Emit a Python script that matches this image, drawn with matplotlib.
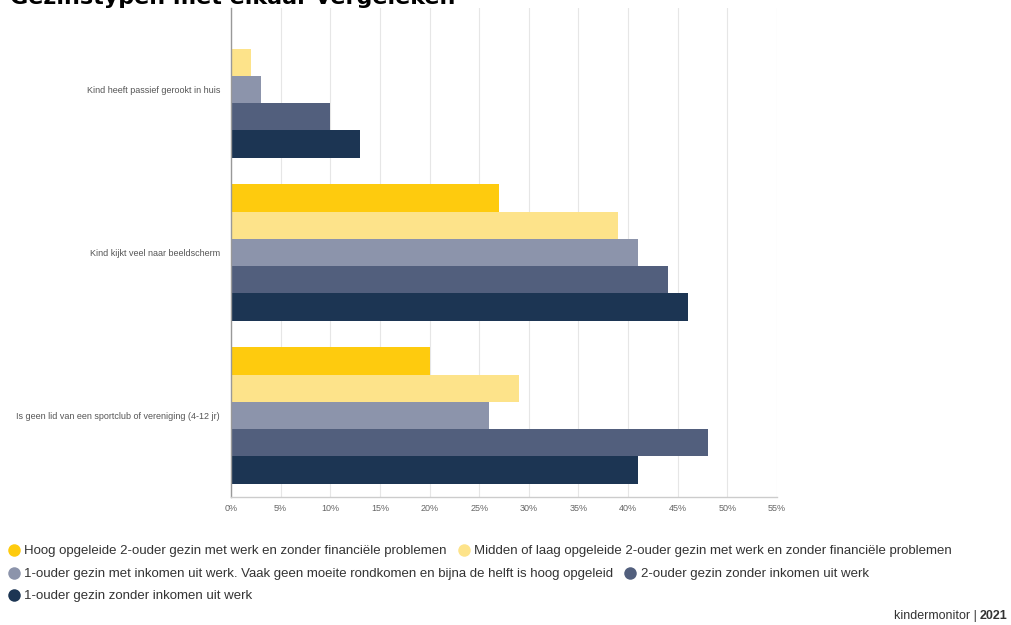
import matplotlib
matplotlib.use("Agg")
import matplotlib.pyplot as plt
from matplotlib.lines import Line2D
import numpy as np

categories = [
    "Kind heeft passief gerookt in huis",
    "Kind kijkt veel naar beeldscherm",
    "Is geen lid van een sportclub of vereniging (4-12 jr)",
]
series_names = [
    "Hoog opgeleide 2-ouder gezin met werk en zonder financiële problemen",
    "Midden of laag opgeleide 2-ouder gezin met werk en zonder financiële problemen",
    "1-ouder gezin met inkomen uit werk. Vaak geen moeite rondkomen en bijna de helft is hoog opgeleid",
    "2-ouder gezin zonder inkomen uit werk",
    "1-ouder gezin zonder inkomen uit werk",
]
values = [
    [0, 27, 20],
    [2, 39, 29],
    [3, 41, 26],
    [10, 44, 48],
    [13, 46, 41],
]
colors = ["#FECB0E", "#FDE38A", "#8C94AB", "#525F7D", "#1C3553"]
xticks = [0, 5, 10, 15, 20, 25, 30, 35, 40, 45, 50, 55]
title = "Gezinstypen met elkaar vergeleken"

plt.rcParams['font.family'] = ['Liberation Sans', 'DejaVu Sans']

fig = plt.figure(figsize=(10.11, 6.25), dpi=100)
ax = fig.add_axes([231/1011, 1-497/625, 546/1011, 489/625])

bh = 0.167
y = np.arange(len(categories))
for j, (name, vals, c) in enumerate(zip(series_names, values, colors)):
    ax.barh(y + (j - 2) * bh, vals, height=bh, color=c, edgecolor='none', label=name, zorder=2)

ax.set_ylim(2.5, -0.5)
ax.set_xlim(0, 55)
ax.set_xticks(xticks)
ax.set_xticklabels([f"{t}%" for t in xticks], fontsize=6.5, color="#666666")
ax.set_yticks(y)
ax.set_yticklabels(categories, fontsize=6.5, color="#555555")
ax.tick_params(axis='y', length=0, pad=8)
ax.tick_params(axis='x', length=0, pad=5)
ax.grid(axis='x', color="#e6e6e6", linewidth=0.8, zorder=0)
for s in ['top', 'right']:
    ax.spines[s].set_visible(False)
ax.spines['left'].set_color("#999999")
ax.spines['left'].set_linewidth(1)
ax.spines['bottom'].set_color("#cccccc")
ax.spines['bottom'].set_linewidth(1)

fig.text(10/1011, 1-4/625, title, fontsize=16, fontweight='bold', color='black',
         va='baseline', ha='left', family='DejaVu Sans')

def handle(c):
    return Line2D([], [], marker='o', linestyle='none', markersize=9,
                  markerfacecolor=c, markeredgecolor='none')

rows = [[0, 1], [2, 3], [4]]
row_y = [551, 574, 596]
for r, yy in zip(rows, row_y):
    leg = fig.legend([handle(colors[i]) for i in r], [series_names[i] for i in r],
                     loc='center left', bbox_to_anchor=(7/1011, 1-yy/625),
                     ncol=len(r), frameon=False, fontsize=9.5, handletextpad=0.3,
                     columnspacing=0.8, handlelength=1.0, borderpad=0, borderaxespad=0)
    for t in leg.get_texts():
        t.set_color("#333333")

fig.text(1007/1011, 1-619/625, "2021", fontsize=9, fontweight='bold', color="#333333",
         ha='right', va='baseline')
fig.text(977/1011, 1-619/625, "kindermonitor |", fontsize=9, color="#333333",
         ha='right', va='baseline')

fig.savefig("out.png", dpi=100, facecolor='white')
